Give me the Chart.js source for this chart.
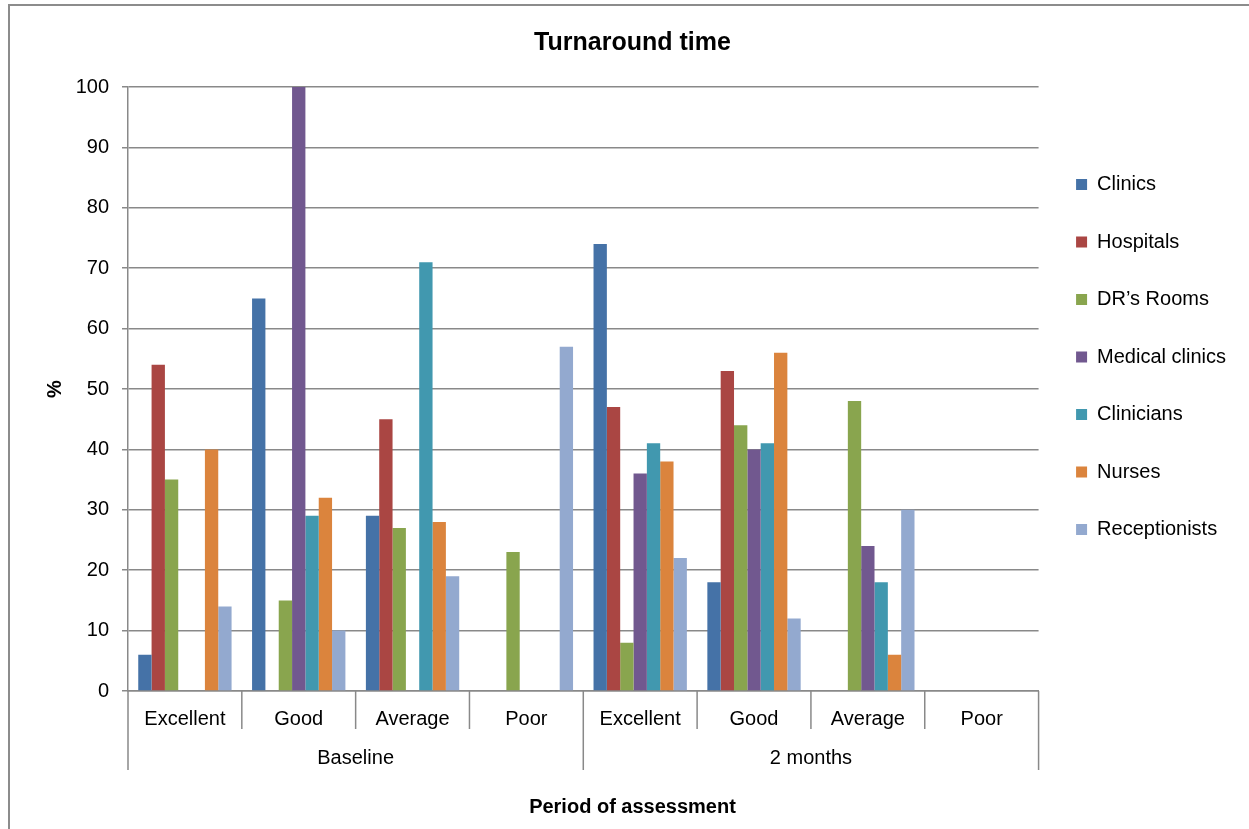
<!DOCTYPE html>
<html>
<head>
<meta charset="utf-8">
<script src="https://cdn.jsdelivr.net/npm/chart.js@4"></script>
<style>
  html, body { margin: 0; padding: 0; background: #fff; overflow: hidden; }
  #frame {
    position: absolute; left: 8px; top: 4px;
    width: 1250px; height: 826px;
    border-left: 2px solid #8c8c8c; border-top: 2px solid #8c8c8c;
  }
</style>
</head>
<body>
<div id="frame"><canvas id="turnaround" width="1250" height="826"></canvas></div>
<script>
// Categories (rating within each period) and the two periods
const ratings = ["Excellent", "Good", "Average", "Poor", "Excellent", "Good", "Average", "Poor"];
const periods = ["Baseline", "2 months"];

// Percent values per respondent group, in rating order above
const clinics       = [6, 65, 29, 0, 74, 18, 0, 0];
const hospitals     = [54, 0, 45, 0, 47, 53, 0, 0];
const drRooms       = [35, 15, 27, 23, 8, 44, 48, 0];
const medClinics    = [0, 100, 0, 0, 36, 40, 24, 0];
const clinicians    = [0, 29, 71, 0, 41, 41, 18, 0];
const nurses        = [40, 32, 28, 0, 38, 56, 6, 0];
const receptionists = [14, 10, 19, 57, 22, 12, 30, 0];

const yTicks = [0, 10, 20, 30, 40, 50, 60, 70, 80, 90, 100];

const font = "'Liberation Sans', Arial, sans-serif";
const gridColor = '#898989';

const series = [
    ['Clinics', clinics, '#4572A7'],
    ['Hospitals', hospitals, '#AA4643'],
    ['DR\u2019s Rooms', drRooms, '#89A54E'],
    ['Medical clinics', medClinics, '#71588F'],
    ['Clinicians', clinicians, '#4198AF'],
    ['Nurses', nurses, '#DB843D'],
    ['Receptionists', receptionists, '#93A9CF']
];

const chartData = {
    labels: ratings,
    datasets: series.map(([label, data, color]) => ({
        label: label,
        data: data,
        backgroundColor: color,
        borderWidth: 0,
        barPercentage: 1,
        categoryPercentage: 0.82
    }))
};

// separator lines of the two-level category axis
const groupLines = {
    id: 'groupLines',
    afterDraw(chart) {
        const ctx = chart.ctx;
        const x = chart.scales.x;
        const x2 = chart.scales.x2;
        const half = (x.getPixelForValue(1) - x.getPixelForValue(0)) / 2;
        ctx.save();
        ctx.strokeStyle = gridColor;
        ctx.lineWidth = 1.5;
        for (let i = 0; i <= ratings.length; i++) {
            const px = x.getPixelForValue(0) - half + i * half * 2;
            const outer = i % (ratings.length / periods.length) === 0;
            ctx.beginPath();
            ctx.moveTo(px, x.top);
            ctx.lineTo(px, outer ? x2.bottom : x.bottom);
            ctx.stroke();
        }
        ctx.restore();
    }
};

const chartConfig = {
    type: 'bar',
    data: chartData,
    plugins: [groupLines],
    options: {
        responsive: false,
        animation: false,
        layout: { padding: { left: 19, right: 24, top: 0, bottom: 0 } },
        scales: {
            y: {
                min: 0,
                max: 100,
                afterBuildTicks: axis => { axis.ticks = yTicks.map(v => ({ value: v })); },
                afterFit: axis => { axis.width = 99; },
                ticks: { color: '#000', font: { family: font, size: 20 }, padding: 13 },
                grid: { color: gridColor, lineWidth: 1.5, tickLength: 6 },
                border: { color: gridColor, width: 1.5 },
                title: {
                    display: true, text: '%', color: '#000',
                    font: { family: font, size: 20, weight: 'bold' },
                    padding: { top: 14, bottom: 0 }
                }
            },
            x: {
                afterFit: axis => { axis.height = 38; },
                ticks: { color: '#000', font: { family: font, size: 20 }, padding: 16, maxRotation: 0, autoSkip: false },
                grid: { drawOnChartArea: false, drawTicks: false },
                border: { color: gridColor, width: 1.5 }
            },
            x2: {
                type: 'category',
                labels: periods,
                position: 'bottom',
                weight: 1,
                offset: true,
                afterFit: axis => { axis.height = 41; },
                ticks: { color: '#000', font: { family: font, size: 20 }, padding: 17, maxRotation: 0 },
                grid: { drawOnChartArea: false, drawTicks: false },
                border: { display: false }
            }
        },
        plugins: {
            title: {
                display: true,
                text: 'Turnaround time',
                color: '#000',
                font: { family: font, size: 25, weight: 'bold' },
                padding: { top: 22, bottom: 29 }
            },
            subtitle: {
                display: true,
                position: 'bottom',
                text: 'Period of assessment',
                color: '#000',
                font: { family: font, size: 20, weight: 'bold' },
                padding: { top: 25, bottom: 13 }
            },
            legend: {
                position: 'right',
                align: 'start',
                fullSize: false,
                title: { display: true, text: ' ', font: { size: 10 }, padding: { top: 38, bottom: 0 } },
                labels: {
                    boxWidth: 11,
                    boxHeight: 11,
                    padding: 37.5,
                    color: '#000',
                    font: { family: font, size: 20 }
                }
            },
            tooltip: { enabled: false }
        }
    }
};

const turnaroundChart = new Chart(document.getElementById('turnaround'), chartConfig);
</script>
</body>
</html>
